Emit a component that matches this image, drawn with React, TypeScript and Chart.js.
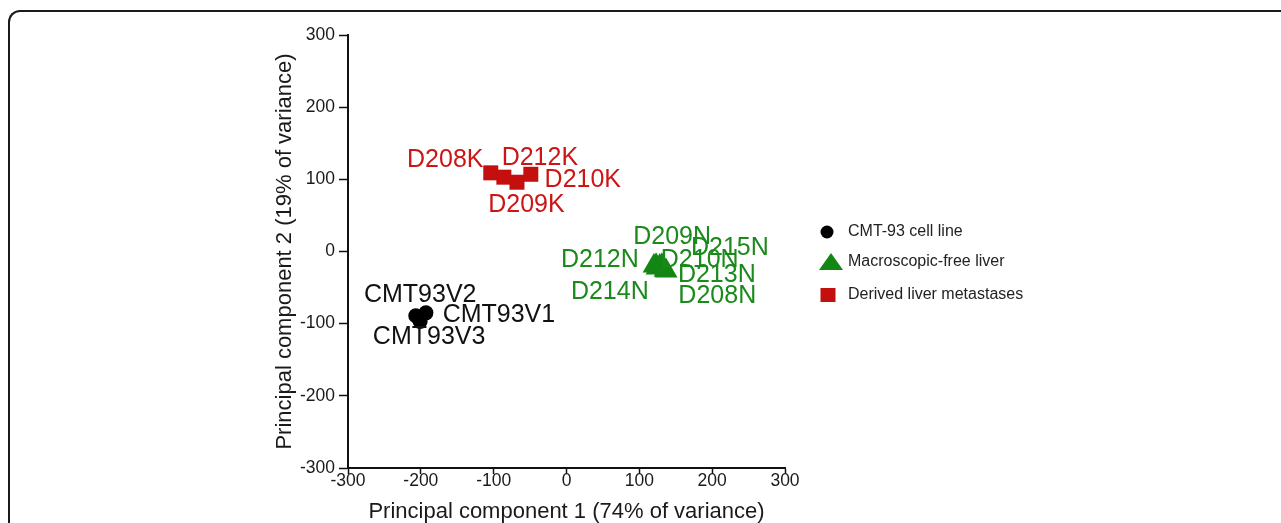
import React, { useEffect, useRef } from 'react';
import { Chart, registerables } from 'chart.js';

Chart.register(...registerables);

// ---- Data ----
const seriesLabels = ['CMT-93 cell line', 'Macroscopic-free liver', 'Derived liver metastases'];

const cellLineNames = ['CMT93V1', 'CMT93V2', 'CMT93V3'];
const cellLinePC1 = [-193, -207, -201];
const cellLinePC2 = [-85, -89, -97];

const liverNames = ['D209N', 'D212N', 'D214N', 'D210N', 'D215N', 'D213N', 'D208N'];
const liverPC1 = [123, 120, 124, 128, 131, 135, 137];
const liverPC2 = [-19, -20, -23, -20, -19, -26, -27];

const metNames = ['D208K', 'D212K', 'D209K', 'D210K'];
const metPC1 = [-104, -86, -68, -49];
const metPC2 = [109, 103, 96, 107];

const axisMin = -300;
const axisMax = 300;
const axisStep = 100;

const xTitle = 'Principal component 1 (74% of variance)';
const yTitle = 'Principal component 2 (19% of variance)';

// ---- Label placement (pixel offsets from each point) ----
const cellLineLabelOffsets = [[73, 2], [4.5, -21], [9, 16]];
const liverLabelOffsets = [[16, -28], [-54, -6], [-47, 24], [40, -6], [68, -17], [52, 5], [51, 25]];
const metLabelOffsets = [[-45.5, -13], [36, -19], [9.5, 23], [52, 6]];

const BLACK = '#000000';
const GREEN = '#138613';
const RED = '#c40f0f';
const FONT = '"Liberation Sans", Arial, Helvetica, sans-serif';

const namesByDataset = [cellLineNames, liverNames, metNames];
const offsetsByDataset = [cellLineLabelOffsets, liverLabelOffsets, metLabelOffsets];
const labelColors = ['#111111', '#1a8a1a', '#cc1515'];

const toPoints = (xs: number[], ys: number[]) => xs.map((x, i) => ({ x, y: ys[i] }));

const pointLabelsPlugin = {
  id: 'pointLabels',
  afterDatasetsDraw(chart: any) {
    const ctx = chart.ctx;
    ctx.save();
    ctx.font = `25px ${FONT}`;
    ctx.textAlign = 'center';
    ctx.textBaseline = 'middle';
    chart.data.datasets.forEach((_ds: any, i: number) => {
      const meta = chart.getDatasetMeta(i);
      meta.data.forEach((el: any, j: number) => {
        const [dx, dy] = offsetsByDataset[i][j];
        ctx.fillStyle = labelColors[i];
        ctx.fillText(namesByDataset[i][j], el.x + dx, el.y + dy);
      });
    });
    ctx.restore();
  },
};

const customLegendPlugin = {
  id: 'customLegend',
  afterDraw(chart: any) {
    const ctx = chart.ctx;
    const right = chart.chartArea.right;
    const mx = right + 42;
    const tx = right + 63;
    const rows = [232, 262, 295];
    ctx.save();
    // circle
    ctx.fillStyle = BLACK;
    ctx.beginPath();
    ctx.arc(mx, rows[0], 6.5, 0, Math.PI * 2);
    ctx.fill();
    // triangle
    ctx.fillStyle = GREEN;
    ctx.beginPath();
    ctx.moveTo(mx + 4, rows[1] - 9);
    ctx.lineTo(mx + 16, rows[1] + 8);
    ctx.lineTo(mx - 8, rows[1] + 8);
    ctx.closePath();
    ctx.fill();
    // square
    ctx.fillStyle = RED;
    ctx.fillRect(mx - 6.5, rows[2] - 7, 15, 14);
    ctx.fillStyle = '#222222';
    ctx.font = `16px ${FONT}`;
    ctx.textAlign = 'left';
    ctx.textBaseline = 'middle';
    seriesLabels.forEach((t, i) => ctx.fillText(t, tx, rows[i]));
    ctx.restore();
  },
};

export default function App() {
  const canvasRef = useRef<HTMLCanvasElement | null>(null);

  useEffect(() => {
    const canvas = canvasRef.current;
    if (!canvas) return;
    const axisColor = '#111111';
    const tickFont = { family: FONT, size: 17.5 };
    const chart = new Chart(canvas, {
      type: 'scatter',
      data: {
        datasets: [
          {
            label: seriesLabels[0],
            data: toPoints(cellLinePC1, cellLinePC2),
            pointStyle: 'circle',
            pointRadius: 7.5,
            backgroundColor: BLACK,
            borderColor: BLACK,
            borderWidth: 0,
          },
          {
            label: seriesLabels[1],
            data: toPoints(liverPC1, liverPC2),
            pointStyle: 'triangle',
            pointRadius: 13,
            backgroundColor: GREEN,
            borderColor: GREEN,
            borderWidth: 0,
          },
          {
            label: seriesLabels[2],
            data: toPoints(metPC1, metPC2),
            pointStyle: 'rect',
            pointRadius: 10.6,
            backgroundColor: RED,
            borderColor: RED,
            borderWidth: 0,
          },
        ],
      },
      options: {
        animation: false,
        responsive: false,
        maintainAspectRatio: false,
        events: [],
        layout: { padding: { left: 268, right: 1281 - 785, top: 35, bottom: 0 } },
        plugins: {
          legend: { display: false },
          tooltip: { enabled: false },
        },
        scales: {
          x: {
            type: 'linear',
            min: axisMin,
            max: axisMax,
            afterFit: (scale: any) => {
              scale.height = 55;
            },
            ticks: { stepSize: axisStep, color: '#1a1a1a', font: tickFont, padding: -3, maxRotation: 0 },
            grid: {
              drawOnChartArea: false,
              drawTicks: true,
              tickLength: 6,
              color: axisColor,
              tickWidth: 1.5,
            },
            border: { display: true, color: axisColor, width: 2 },
            title: {
              display: true,
              text: xTitle,
              color: '#1a1a1a',
              font: { family: FONT, size: 22 },
              padding: { top: 0, bottom: -2 },
            },
          },
          y: {
            type: 'linear',
            min: axisMin,
            max: axisMax,
            afterFit: (scale: any) => {
              scale.width = 80;
            },
            ticks: { stepSize: axisStep, color: '#1a1a1a', font: tickFont, padding: 4 },
            grid: {
              drawOnChartArea: false,
              drawTicks: true,
              tickLength: 9,
              color: axisColor,
              tickWidth: 1.5,
            },
            border: { display: true, color: axisColor, width: 2 },
            title: {
              display: true,
              text: yTitle,
              color: '#1a1a1a',
              font: { family: FONT, size: 22 },
              padding: { top: 4, bottom: 0 },
            },
          },
        },
      },
      plugins: [pointLabelsPlugin, customLegendPlugin],
    } as any);
    return () => chart.destroy();
  }, []);

  return (
    <div style={{ position: 'fixed', inset: 0, overflow: 'hidden', background: '#ffffff' }}>
      <div
        style={{
          position: 'absolute',
          left: 8,
          top: 10,
          width: 2000,
          height: 2000,
          borderTop: '2px solid #1a1a1a',
          borderLeft: '2px solid #1a1a1a',
          borderTopLeftRadius: 12,
          boxSizing: 'border-box',
        }}
      />
      <canvas
        ref={canvasRef}
        width={1281}
        height={523}
        style={{ position: 'absolute', left: 0, top: 0, width: 1281, height: 523 }}
      />
    </div>
  );
}
